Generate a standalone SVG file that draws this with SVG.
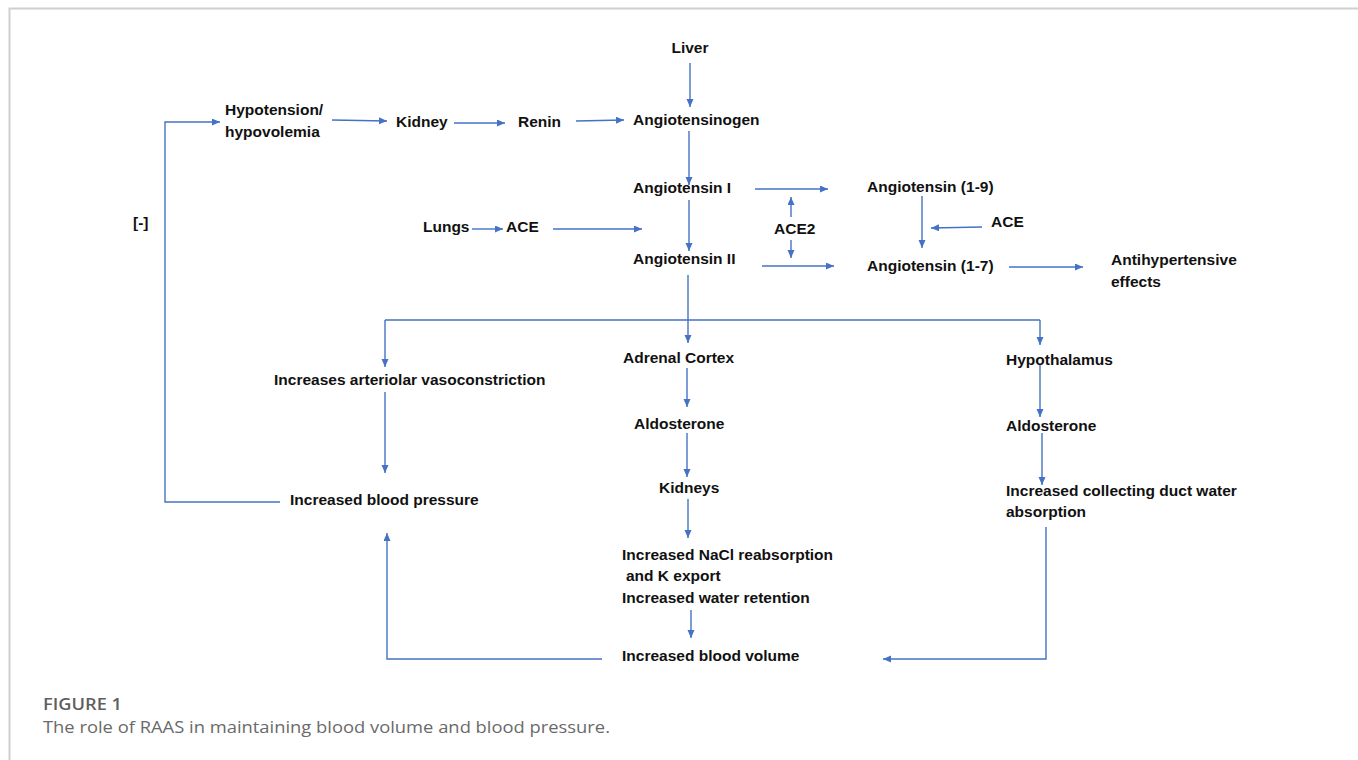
<svg xmlns="http://www.w3.org/2000/svg" width="1358" height="760" viewBox="0 0 1358 760">
<defs>
<marker id="ah" markerUnits="userSpaceOnUse" markerWidth="9" markerHeight="8" refX="8" refY="3.5" orient="auto">
<path d="M0,0 L8,3.5 L0,7 z" fill="#4472C4"/>
</marker>
<style>
.t{font-family:"Liberation Sans",Arial,sans-serif;font-weight:bold;font-size:15.5px;fill:#111}
.c{fill:none;stroke:#4472C4;stroke-width:1.4}
.a{marker-end:url(#ah)}
.cap1{font-family:"Open Sans","Liberation Sans",sans-serif;font-weight:600;font-size:17px;fill:#5f5f5f}
.cap2{font-family:"Open Sans","Liberation Sans",sans-serif;font-size:16.5px;fill:#6a6a6a}
</style>
</defs>
<rect width="1358" height="760" fill="#fff"/>
<path d="M9.5,760 V8.5 H1358" fill="none" stroke="#cfcfcf" stroke-width="2"/>

<g id="connectors">
<path class="c a" d="M690,63 V107"/>
<path class="c a" d="M332,120 L387,121"/>
<path class="c a" d="M454,123 H505"/>
<path class="c a" d="M576,121 L624,120"/>
<path class="c a" d="M689,131 V185"/>
<path class="c a" d="M689,200 V251"/>
<path class="c a" d="M755,189 H828"/>
<path class="c a" d="M762,266 H834"/>
<path class="c a" d="M791,217 V197"/>
<path class="c a" d="M791,240 V258"/>
<path class="c a" d="M922,196 V248"/>
<path class="c a" d="M982,227 L931,228"/>
<path class="c a" d="M1009,267 H1083"/>
<path class="c a" d="M472,229 H503"/>
<path class="c a" d="M553,229 H642"/>
<path class="c a" d="M688,275 V343"/>
<path class="c" d="M385,320 H1040"/>
<path class="c a" d="M385,320 V367"/>
<path class="c a" d="M1040,320 V345"/>
<path class="c a" d="M385,392 V473"/>
<path class="c a" d="M280,502 H165 V122 H220"/>
<path class="c a" d="M687,368 V407"/>
<path class="c a" d="M687,433 V477"/>
<path class="c a" d="M688,499 V538"/>
<path class="c a" d="M691,610 V638"/>
<path class="c a" d="M602,659 H387 V533"/>
<path class="c a" d="M1046,527 V659 H883"/>
<path class="c a" d="M1040,365 V417"/>
<path class="c a" d="M1042,433 V485"/>
</g>

<g id="n-liver"><text class="t" x="690" y="53" text-anchor="middle">Liver</text></g>
<g id="n-hypotension"><text class="t" x="225" y="115">Hypotension/</text><text class="t" x="225" y="137">hypovolemia</text></g>
<g id="n-kidney"><text class="t" x="396" y="127">Kidney</text></g>
<g id="n-renin"><text class="t" x="518" y="127">Renin</text></g>
<g id="n-angiotensinogen"><text class="t" x="633" y="125">Angiotensinogen</text></g>
<g id="n-angI"><text class="t" x="633" y="193">Angiotensin I</text></g>
<g id="n-ang19"><text class="t" x="867" y="192">Angiotensin (1-9)</text></g>
<g id="n-ace2"><text class="t" x="774" y="234">ACE2</text></g>
<g id="n-ace-right"><text class="t" x="991" y="227">ACE</text></g>
<g id="n-lungs"><text class="t" x="423" y="232">Lungs</text></g>
<g id="n-ace-left"><text class="t" x="506" y="232">ACE</text></g>
<g id="n-angII"><text class="t" x="633" y="264">Angiotensin II</text></g>
<g id="n-ang17"><text class="t" x="867" y="271">Angiotensin (1-7)</text></g>
<g id="n-antihyp"><text class="t" x="1111" y="265">Antihypertensive</text><text class="t" x="1111" y="287">effects</text></g>
<g id="n-minus"><text class="t" x="133" y="228">[-]</text></g>
<g id="n-vaso"><text class="t" x="274" y="385">Increases arteriolar vasoconstriction</text></g>
<g id="n-bp"><text class="t" x="290" y="505">Increased blood pressure</text></g>
<g id="n-adrenal"><text class="t" x="623" y="363">Adrenal Cortex</text></g>
<g id="n-aldo1"><text class="t" x="634" y="429">Aldosterone</text></g>
<g id="n-kidneys"><text class="t" x="659" y="493">Kidneys</text></g>
<g id="n-nacl"><text class="t" x="622" y="560">Increased NaCl reabsorption</text><text class="t" x="626" y="581">and K export</text><text class="t" x="622" y="603">Increased water retention</text></g>
<g id="n-volume"><text class="t" x="622" y="661">Increased blood volume</text></g>
<g id="n-hypothalamus"><text class="t" x="1006" y="365">Hypothalamus</text></g>
<g id="n-aldo2"><text class="t" x="1006" y="431">Aldosterone</text></g>
<g id="n-duct"><text class="t" x="1006" y="496">Increased collecting duct water</text><text class="t" x="1006" y="517">absorption</text></g>

<g id="caption">
<text class="cap1" x="43" y="710" textLength="79" lengthAdjust="spacingAndGlyphs">FIGURE 1</text>
<text class="cap2" x="43" y="733" textLength="567" lengthAdjust="spacingAndGlyphs">The role of RAAS in maintaining blood volume and blood pressure.</text>
</g>
</svg>
